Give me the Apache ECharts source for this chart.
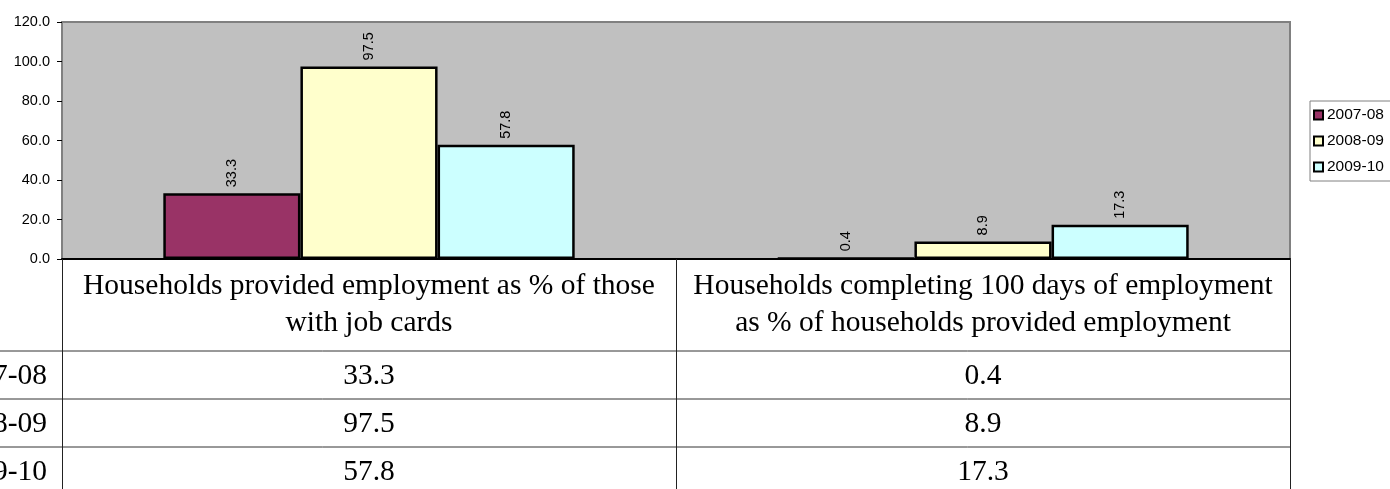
<!DOCTYPE html>
<html>
<head>
<meta charset="utf-8">
<script src="https://cdn.jsdelivr.net/npm/echarts@6/dist/echarts.min.js"></script>
<style>
  html, body { margin: 0; padding: 0; background: #fff; }
  #main { width: 1390px; height: 489px; }
</style>
</head>
<body>
<div id="main"></div>
<script>
// categories (header text of the data table, with its line breaks)
const categories = [
  'Households provided employment as % of those\nwith job cards',
  'Households completing 100 days of employment\nas % of households provided employment'
];
const years = ['2007-08', '2008-09', '2009-10'];
const y2007 = [33.3, 0.4];
const y2008 = [97.5, 8.9];
const y2009 = [57.8, 17.3];
const yTicks = [0, 20, 40, 60, 80, 100, 120];

const colors = ['#993366', '#FFFFCC', '#CCFFFF'];
const seriesData = [y2007, y2008, y2009];

var myChart = echarts.init(document.getElementById('main'));

const sans = 'Liberation Sans';
const serif = 'Liberation Serif';
const smallSize = 14.5;
const tableSize = 29.5;

myChart.setOption({
  animation: false,
  grid: {
    left: 62, right: 100, top: 22, bottom: 230,
    show: true,
    backgroundColor: '#C0C0C0',
    borderColor: '#808080',
    borderWidth: 2
  },
  legend: {
    orient: 'vertical',
    left: 1310, top: 101,
    data: years,
    icon: 'rect',
    itemWidth: 9, itemHeight: 9,
    itemGap: 10,
    padding: [6, 30, 6, 3],
    borderColor: '#808080',
    borderWidth: 1,
    backgroundColor: '#fff',
    itemStyle: { borderColor: '#000', borderWidth: 2 },
    textStyle: { fontFamily: sans, fontSize: 15.5, color: '#000', padding: [0, 0, 0, -1] }
  },
  xAxis: {
    type: 'category',
    data: categories,
    axisLine: { lineStyle: { color: '#000', width: 2 } },
    axisTick: { show: true, length: 232, lineStyle: { color: '#222', width: 1 } },
    axisLabel: {
      fontFamily: serif, fontSize: tableSize, color: '#000',
      lineHeight: 37, margin: 9, interval: 0, align: 'center'
    }
  },
  yAxis: {
    type: 'value',
    min: yTicks[0], max: yTicks[yTicks.length - 1], interval: 20,
    axisLine: { show: true, lineStyle: { color: '#808080', width: 2 } },
    axisTick: { show: true, length: 5, lineStyle: { color: '#000' } },
    splitLine: { show: false },
    axisLabel: {
      fontFamily: sans, fontSize: smallSize, color: '#000', margin: 12,
      formatter: v => v.toFixed(1)
    }
  },
  series: years.map((name, i) => ({
    name: name,
    type: 'bar',
    data: seriesData[i],
    barGap: '0%',
    barCategoryGap: '33%',
    itemStyle: { color: colors[i], borderColor: '#000', borderWidth: 2.5 },
    label: {
      show: true, position: 'top', rotate: 90, distance: 6,
      align: 'left', verticalAlign: 'middle',
      fontFamily: sans, fontSize: smallSize, color: '#000',
      formatter: p => p.value.toFixed(1)
    }
  }))
});

// data table rows below the chart, placed from the axis scales
function drawTable() {
  const c0 = myChart.convertToPixel({xAxisIndex: 0}, categories[0]);
  const c1 = myChart.convertToPixel({xAxisIndex: 0}, categories[1]);
  const half = (c1 - c0) / 2;
  const right = c1 + half;
  const yZero = myChart.convertToPixel({yAxisIndex: 0}, 0);
  const headerH = 92, rowH = 48;
  const els = [];
  years.forEach((name, i) => {
    const top = yZero + headerH + i * rowH;
    els.push({
      type: 'line', silent: true,
      shape: {x1: 0, y1: top, x2: right, y2: top},
      style: {stroke: '#333', lineWidth: 1}
    });
    els.push({
      type: 'text', silent: true,
      x: c0 - half - 15, y: top + rowH / 2 + 1,
      style: {text: name, fontFamily: serif, fontSize: tableSize, fill: '#000', align: 'right', verticalAlign: 'middle'}
    });
    [c0, c1].forEach((cx, j) => {
      els.push({
        type: 'text', silent: true,
        x: cx, y: top + rowH / 2 + 1,
        style: {text: seriesData[i][j].toFixed(1), fontFamily: serif, fontSize: tableSize, fill: '#000', align: 'center', verticalAlign: 'middle'}
      });
    });
  });
  myChart.setOption({graphic: els});
}
drawTable();
</script>
</body>
</html>
